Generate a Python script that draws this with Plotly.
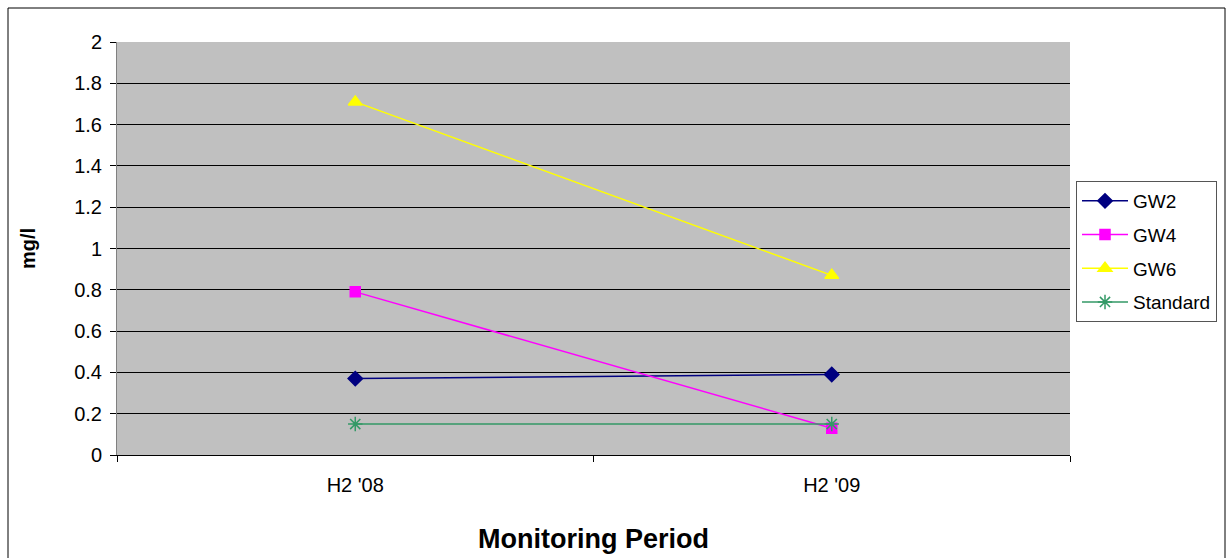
import plotly.graph_objects as go

periods = ["H2 '08", "H2 '09"]
gw2 = [0.37, 0.39]
gw4 = [0.79, 0.13]
gw6 = [1.71, 0.87]
standard = [0.15, 0.15]

series = [
    ("GW2", gw2, "#000080", "diamond", 11),
    ("GW4", gw4, "#FF00FF", "square", 10),
    ("GW6", gw6, "#FFFF00", "triangle-up", 12),
    ("Standard", standard, "#339966", "asterisk-open", 12),
]

fig = go.Figure()
for i, (name, vals, color, symbol, size) in enumerate(series):
    fig.add_trace(go.Scatter(
        x=periods, y=vals, name=name, mode="lines+markers",
        line=dict(color=color, width=1.5),
        marker=dict(symbol=symbol, size=size, color=color,
                    line=dict(color=color, width=1.5)),
        legendgroup=f"g{i}",
    ))

W, H = 1228, 558
L, R, T, B = 117, 158, 42, 103
pw, ph = W - L - R, H - T - B

def px_x(x):
    return (x - L) / pw

def px_y(y):
    return (H - B - y) / ph

font = "Liberation Sans, Arial, sans-serif"

fig.update_layout(
    width=W, height=H,
    margin=dict(l=L, r=R, t=T, b=B, autoexpand=False),
    paper_bgcolor="white",
    plot_bgcolor="#C0C0C0",
    font=dict(family=font, size=20, color="black"),
    showlegend=True,
    legend=dict(
        x=px_x(1076), y=px_y(181), xanchor="left", yanchor="top",
        bordercolor="#555555", borderwidth=1, bgcolor="white",
        font=dict(size=19, family=font),
        tracegroupgap=6, itemwidth=46,
    ),
    xaxis=dict(
        type="category", tickson="boundaries",
        ticks="outside", ticklen=6, tickcolor="black",
        showgrid=False, showline=True, linecolor="black", linewidth=1,
        range=[-0.5, 1.5],
        tickfont=dict(size=20), ticklabelstandoff=12,
        title=dict(text="<b>Monitoring Period</b>", font=dict(size=27), standoff=34),
    ),
    yaxis=dict(
        range=[0, 2], dtick=0.2, tickformat="~g",
        ticks="outside", ticklen=6, tickcolor="black",
        showgrid=True, gridcolor="black", gridwidth=1,
        showline=True, linecolor="#808080", linewidth=1,
        zeroline=False,
        tickfont=dict(size=20), ticklabelstandoff=4,
        title=dict(text="<b>mg/l</b>", font=dict(size=20), standoff=33),
    ),
    shapes=[
        dict(type="rect", xref="paper", yref="paper",
             x0=px_x(8), x1=px_x(1225), y0=px_y(575), y1=px_y(8),
             line=dict(color="black", width=1), fillcolor="rgba(0,0,0,0)",
             layer="below"),
    ],
)

fig.write_html("out.html")
